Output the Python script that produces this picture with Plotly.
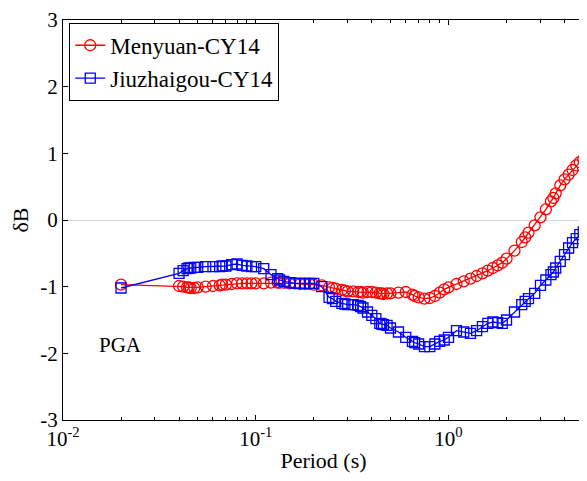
import plotly.graph_objects as go

periods = [0.02, 0.04, 0.042, 0.044, 0.045, 0.046, 0.048, 0.05, 0.055, 0.06, 0.065, 0.067, 0.07, 0.075,
           0.08, 0.085, 0.09, 0.095, 0.1, 0.11, 0.12, 0.13, 0.133, 0.14, 0.15, 0.16, 0.17, 0.18, 0.19,
           0.2, 0.22, 0.24, 0.25, 0.26, 0.28, 0.29, 0.3, 0.32, 0.34, 0.35, 0.36, 0.38, 0.4, 0.42, 0.44,
           0.45, 0.46, 0.48, 0.5, 0.55, 0.6, 0.65, 0.667, 0.7, 0.75, 0.8, 0.85, 0.9, 0.95, 1.0, 1.1,
           1.2, 1.3, 1.4, 1.5, 1.6, 1.7, 1.8, 1.9, 2.0, 2.2, 2.4, 2.5, 2.6, 2.8, 3.0, 3.2, 3.4, 3.5,
           3.6, 3.8, 4.0, 4.2, 4.4, 4.6, 4.8, 5.0]

menyuan = [-0.97, -0.99, -1.00, -1.01, -1.01, -1.02, -1.02, -1.01, -1.00, -0.99, -0.98, -0.97, -0.97, -0.96,
           -0.95, -0.95, -0.95, -0.95, -0.95, -0.95, -0.94, -0.94, -0.94, -0.94, -0.95, -0.95, -0.96, -0.96, -0.96,
           -0.97, -0.98, -1.01, -1.02, -1.03, -1.05, -1.06, -1.07, -1.07, -1.08, -1.08, -1.09, -1.08, -1.08, -1.09, -1.10,
           -1.10, -1.11, -1.10, -1.10, -1.09, -1.08, -1.12, -1.14, -1.16, -1.18, -1.17, -1.14, -1.09, -1.04, -1.01, -0.96,
           -0.92, -0.88, -0.84, -0.80, -0.76, -0.72, -0.68, -0.64, -0.58, -0.46, -0.33, -0.26, -0.19, -0.08, 0.04, 0.16, 0.28, 0.33,
           0.40, 0.52, 0.61, 0.68, 0.75, 0.82, 0.87, 0.91]

jiuzhaigou = [-1.02, -0.80, -0.76, -0.73, -0.72, -0.72, -0.71, -0.71, -0.70, -0.70, -0.70, -0.69, -0.69, -0.67,
              -0.66, -0.68, -0.69, -0.70, -0.70, -0.73, -0.82, -0.88, -0.90, -0.92, -0.94, -0.95, -0.95, -0.95, -0.95,
              -0.95, -1.00, -1.16, -1.18, -1.22, -1.25, -1.26, -1.27, -1.27, -1.28, -1.30, -1.32, -1.38, -1.43, -1.48, -1.55,
              -1.56, -1.57, -1.58, -1.62, -1.68, -1.76, -1.82, -1.84, -1.86, -1.90, -1.90, -1.86, -1.82, -1.80, -1.76, -1.66,
              -1.68, -1.70, -1.66, -1.60, -1.55, -1.53, -1.54, -1.55, -1.50, -1.38, -1.27, -1.22, -1.18, -1.10, -0.98, -0.90, -0.82, -0.78,
              -0.72, -0.62, -0.52, -0.42, -0.34, -0.28, -0.22, -0.18]

x_tickvals = [0.01, 0.1, 1]
x_ticktext = ["10<sup>-2</sup>", "10<sup>-1</sup>", "10<sup>0</sup>"]
y_tickvals = [-3, -2, -1, 0, 1, 2, 3]
y_ticktext = ["-3", "-2", "-1", "0", "1", "2", "3"]

minor_vals = [m * d for d in (0.01, 0.1, 1) for m in range(2, 10) if m * d <= 5.05]

FONT = "Times New Roman, Liberation Serif, DejaVu Serif, serif"

fig = go.Figure()
fig.add_trace(go.Scatter(
    x=periods, y=menyuan, mode="lines+markers", name="Menyuan-CY14",
    line=dict(color="#ff0000", width=1.3),
    marker=dict(symbol="circle-open", size=11, color="#ff0000", line=dict(width=1.3))))
fig.add_trace(go.Scatter(
    x=periods, y=jiuzhaigou, mode="lines+markers", name="Jiuzhaigou-CY14",
    line=dict(color="#0000ff", width=1.3),
    marker=dict(symbol="square-open", size=10, color="#0000ff", line=dict(width=1.3))))

fig.add_annotation(x=-1.7, y=-1.88, text="PGA", showarrow=False,
                   font=dict(family=FONT, size=21, color="black"))

# page body has an 8px margin, so the figure is sized to fit the 587x481 window
fig.update_layout(
    width=579, height=473,
    margin=dict(l=55, r=3, t=12, b=61),
    paper_bgcolor="white", plot_bgcolor="white",
    font=dict(family=FONT, size=20, color="black"),
    showlegend=True,
    legend=dict(x=0.012, y=0.993, xanchor="left", yanchor="top",
                bordercolor="black", borderwidth=1, bgcolor="white",
                font=dict(family=FONT, size=23), tracegroupgap=0, itemwidth=30),
    xaxis=dict(type="log", range=[-2, 0.703], tickvals=x_tickvals, ticktext=x_ticktext,
               ticks="inside", ticklen=5, tickcolor="black", showline=True, linecolor="black",
               linewidth=1, mirror="ticks", showgrid=False, zeroline=False, automargin=False,
               minor=dict(tickvals=minor_vals, ticks="inside", ticklen=3, tickcolor="black", showgrid=False),
               title=dict(text="Period (s)", font=dict(family=FONT, size=22), standoff=2),
               tickfont=dict(family=FONT, size=21)),
    yaxis=dict(range=[-3, 3], tickvals=y_tickvals, ticktext=y_ticktext, ticks="inside", ticklen=5,
               tickcolor="black", showline=True, linecolor="black", linewidth=1, mirror="ticks",
               showgrid=False, zeroline=True, zerolinecolor="#d3d3d3", zerolinewidth=1, automargin=False,
               title=dict(text="δB", font=dict(family=FONT, size=22), standoff=6),
               tickfont=dict(family=FONT, size=21)),
)

fig.write_html("out.html")
